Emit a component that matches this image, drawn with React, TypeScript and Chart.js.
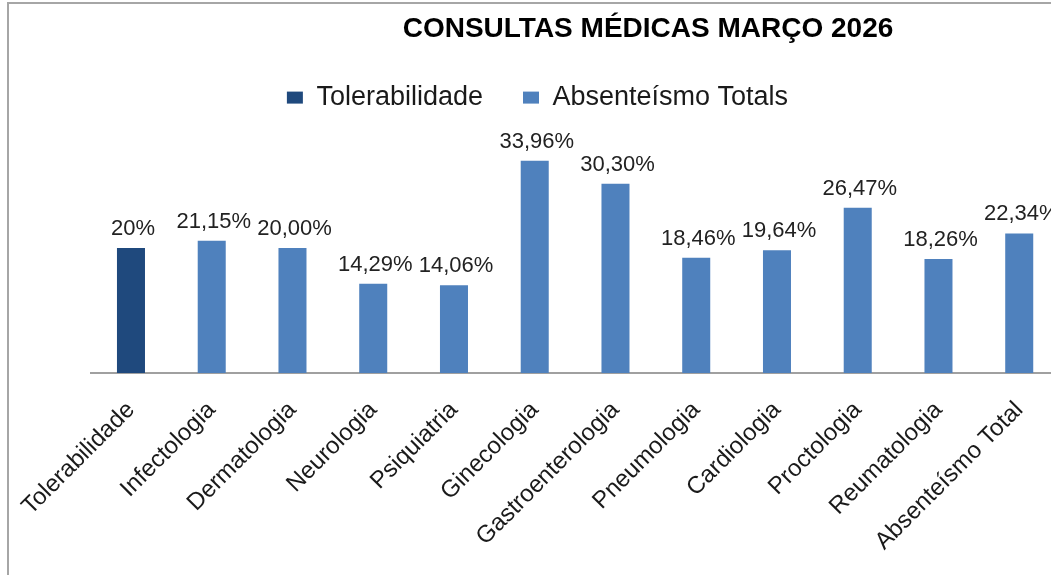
import { useEffect, useRef } from 'react';
import { Chart, registerables } from 'chart.js';

Chart.register(...registerables);

const chartTitle = 'CONSULTAS MÉDICAS MARÇO 2026';
const categories = [
  'Tolerabilidade',
  'Infectologia',
  'Dermatologia',
  'Neurologia',
  'Psiquiatria',
  'Ginecologia',
  'Gastroenterologia',
  'Pneumologia',
  'Cardiologia',
  'Proctologia',
  'Reumatologia',
  'Absenteísmo Total',
];
const seriesNames = ['Tolerabilidade', 'Absenteísmo Totals'];
const tolerabilidade = [20, null, null, null, null, null, null, null, null, null, null, null];
const absenteismo = [null, 21.15, 20.0, 14.29, 14.06, 33.96, 30.3, 18.46, 19.64, 26.47, 18.26, 22.34];
const labelDecimals = [0, 2];
const yMin = 0;
const yMax = 40;

const FONT = '"Liberation Sans", Arial, Helvetica, sans-serif';

const formatPct = (v: number, d: number) => v.toFixed(d).replace('.', ',') + '%';

const dataLabelsPlugin = {
  id: 'dataLabels',
  afterDatasetsDraw(chart: any) {
    const ctx = chart.ctx;
    ctx.save();
    ctx.font = `22px ${FONT}`;
    ctx.fillStyle = '#222222';
    ctx.textAlign = 'center';
    ctx.textBaseline = 'alphabetic';
    chart.data.datasets.forEach((ds: any, i: number) => {
      const meta = chart.getDatasetMeta(i);
      meta.data.forEach((el: any, j: number) => {
        const v = ds.data[j];
        if (v === null || v === undefined) return;
        ctx.fillText(formatPct(v, labelDecimals[i]), el.x + 2, el.y - 13);
      });
    });
    ctx.restore();
  },
};

// moves the title / legend boxes so their centres sit where the reference has them
const boxShiftPlugin = {
  id: 'boxShift',
  afterLayout(chart: any, _args: any, opts: any) {
    const shift = (box: any, cx: number, dy: number) => {
      if (!box) return;
      const dx = cx - (box.left + box.right) / 2;
      box.left += dx;
      box.right += dx;
      box.top += dy;
      box.bottom += dy;
    };
    shift(chart.titleBlock, opts.titleCenter, opts.titleDy || 0);
    shift(chart.legend, opts.legendCenter, opts.legendDy || 0);
  },
};

export default function App() {
  const ref = useRef<HTMLCanvasElement>(null);

  useEffect(() => {
    if (!ref.current) return;
    const chart = new Chart(ref.current, {
      type: 'bar',
      data: {
        labels: categories,
        datasets: [
          {
            label: seriesNames[0],
            data: tolerabilidade,
            backgroundColor: '#1f497d',
            grouped: false,
            barPercentage: 0.347,
            categoryPercentage: 1,
          },
          {
            label: seriesNames[1],
            data: absenteismo,
            backgroundColor: '#4f81bd',
            grouped: false,
            barPercentage: 0.347,
            categoryPercentage: 1,
          },
        ],
      } as any,
      options: {
        responsive: false,
        animation: false,
        devicePixelRatio: 1,
        layout: { padding: { left: 81.6, right: 9.4, top: 0, bottom: 0 } },
        plugins: {
          title: {
            display: true,
            text: chartTitle,
            color: '#000000',
            font: { family: FONT, size: 28, weight: 'bold' },
            padding: { top: 8.5, bottom: 0 },
          },
          legend: {
            display: true,
            labels: {
              boxWidth: 16,
              boxHeight: 12,
              padding: 40,
              color: '#1a1a1a',
              font: { family: FONT, size: 27 },
            },
          },
          tooltip: { enabled: false },
          boxShift: { titleCenter: 639, legendCenter: 528.5, legendDy: -2 },
        } as any,
        scales: {
          x: {
            grid: { display: false, drawTicks: false },
            border: { display: true, color: '#a0a0a0', width: 2 },
            ticks: {
              autoSkip: false,
              maxRotation: 45,
              minRotation: 45,
              padding: 23,
              color: '#1a1a1a',
              font: { family: FONT, size: 24 },
            },
            afterFit: (s: any) => {
              s.height = 202;
              s.paddingLeft = 0;
              s.paddingRight = 0;
            },
          },
          y: { display: false, min: yMin, max: yMax },
        },
      },
      plugins: [dataLabelsPlugin, boxShiftPlugin],
    });
    return () => chart.destroy();
  }, []);

  return (
    <div
      style={{
        position: 'fixed',
        left: 0,
        top: 0,
        width: 1051,
        height: 575,
        overflow: 'hidden',
        background: '#ffffff',
      }}
    >
      <div
        style={{
          position: 'absolute',
          left: 7,
          top: 2,
          width: 1100,
          height: 620,
          borderLeft: '2px solid #a6a6a6',
          borderTop: '2px solid #a6a6a6',
          boxSizing: 'border-box',
        }}
      >
        <canvas ref={ref} width={1060} height={571} style={{ display: 'block' }} />
      </div>
    </div>
  );
}
